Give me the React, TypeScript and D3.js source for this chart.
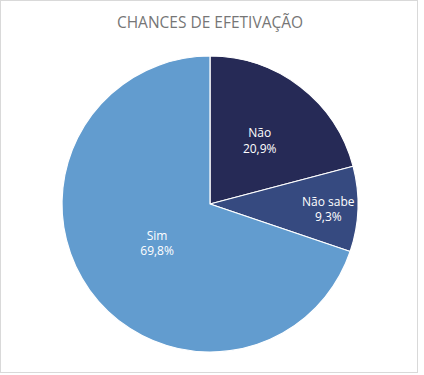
import * as d3 from "d3";
import { useEffect, useRef } from "react";

const categories = ["Não", "Não sabe", "Sim"];
const values = [20.9, 9.3, 69.8];
const colors = ["#262a56", "#364a80", "#629ccf"];
// label distance from centre, as fraction of the radius (Excel best-fit look)
const labelRadius = [0.55, 0.8, 0.44];

type Slice = { label: string; value: number; index: number };

export default function App() {
  const svgRef = useRef<SVGSVGElement | null>(null);

  useEffect(() => {
    if (!svgRef.current) return;
    document.body.style.margin = "0";

    const width = 424;
    const height = 375;
    const cx = 210;
    const cy = 204;
    const radius = 148;

    const svg = d3.select(svgRef.current);
    svg.selectAll("*").remove();
    svg.attr("width", width).attr("height", height).attr("viewBox", `0 0 ${width} ${height}`);

    svg
      .append("rect")
      .attr("x", 0.5)
      .attr("y", 0.5)
      .attr("width", 417)
      .attr("height", 372)
      .attr("fill", "#ffffff")
      .attr("stroke", "#d9d9d9")
      .attr("stroke-width", 1);

    svg
      .append("text")
      .attr("x", cx)
      .attr("y", 28)
      .attr("text-anchor", "middle")
      .attr("font-family", "'Open Sans', sans-serif")
      .attr("font-size", 15.5)
      .attr("fill", "#767676")
      .text("CHANCES DE EFETIVAÇÃO");

    const data: Slice[] = categories.map((label, index) => ({ label, value: values[index], index }));

    const pie = d3
      .pie<Slice>()
      .value((d) => d.value)
      .sort(null);

    const arcs = pie(data);

    const arc = d3
      .arc<d3.PieArcDatum<Slice>>()
      .innerRadius(0)
      .outerRadius(radius);

    const stage = svg.append("g").attr("transform", `translate(${cx},${cy})`);

    stage
      .selectAll("path")
      .data(arcs)
      .join("path")
      .attr("d", arc)
      .attr("fill", (d) => colors[d.data.index])
      .attr("stroke", "#ffffff")
      .attr("stroke-width", 1.2)
      .attr("stroke-linejoin", "round");

    const labels = stage
      .selectAll(".slice-label")
      .data(arcs)
      .join("text")
      .attr("class", "slice-label")
      .attr("transform", (d) => {
        const r = radius * labelRadius[d.data.index];
        const a = (d.startAngle + d.endAngle) / 2;
        return `translate(${Math.sin(a) * r},${-Math.cos(a) * r})`;
      })
      .attr("text-anchor", "middle")
      .attr("font-family", "'Open Sans', sans-serif")
      .attr("font-size", 12)
      .attr("fill", "#ffffff");

    labels
      .append("tspan")
      .attr("x", 0)
      .attr("dy", "-0.2em")
      .text((d) => d.data.label);

    labels
      .append("tspan")
      .attr("x", 0)
      .attr("dy", "1.3em")
      .text((d) => `${d.data.value.toFixed(1).replace(".", ",")}%`);
  }, []);

  return <svg ref={svgRef} style={{ display: "block" }} />;
}
